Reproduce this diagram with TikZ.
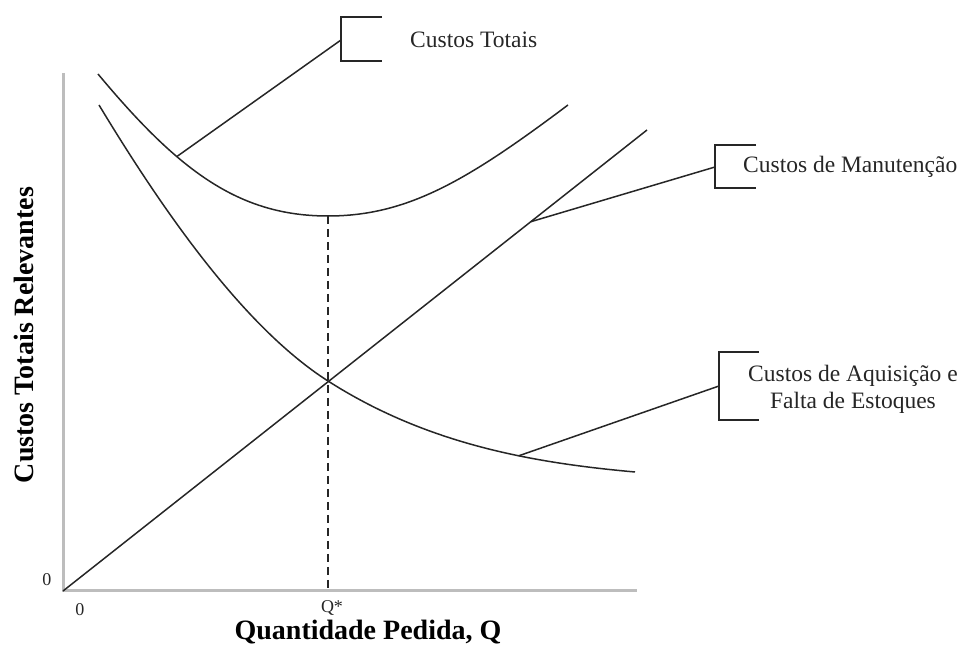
\documentclass[tikz,border=0pt]{standalone}
\usepackage{fontspec}
\setmainfont{Liberation Serif}
\usepackage{tikz}
\usetikzlibrary{positioning}
\definecolor{AxisGray}{HTML}{BDBDBD}
\definecolor{LineColor}{HTML}{262626}
\newcommand\labelct{Custos Totais}
\newcommand\labelcm{Custos de Manutenção}
\newcommand\labelca{Custos de Aquisição e\\Falta de Estoques}
\newcommand\labelqx{Quantidade Pedida, Q}
\newcommand\labelqy{Custos Totais Relevantes}
\tikzstyle{curvestyle} = [draw=LineColor, line width=1.5pt]
\tikzstyle{axisstyle} = [draw=AxisGray, line width=3pt]
\tikzstyle{txt} = [font=\fontsize{23.5}{27}\selectfont, text=LineColor, inner sep=0pt]
\tikzstyle{bigtxt} = [font=\fontsize{28}{32}\selectfont\bfseries, text=black, inner sep=0pt]
\tikzstyle{ticktxt} = [font=\fontsize{18}{20}\selectfont, text=LineColor, inner sep=0pt]
\tikzset{x=1pt, y=1pt}

\begin{document}
\begin{tikzpicture}
\useasboundingbox (-63,-54) rectangle (899,591);
% axes
\coordinate (o) at (0,0);
\coordinate (ytop) at (0,518);
\coordinate (xend) at (574,0);
\draw[axisstyle] (ytop) -- (o) -- (xend);
% curves
\coordinate (tmin) at (265,375);
\coordinate (qaxis) at (265,0);
\coordinate (mend) at (584,461);
\draw[curvestyle] (35,517) .. controls (115,421) and (175,375) .. coordinate[pos=0.35] (ctp) (tmin)
  .. controls (345,375) and (405,411) .. (505,486);
\draw[curvestyle] (36,486) .. controls (106,370) and (185,261) .. (265,210)
  .. controls (365,146) and (472,128) .. coordinate[pos=0.62] (cap) (572,119);
\draw[curvestyle] (o) -- coordinate[pos=0.801] (cmp) (mend);
\draw[curvestyle, dash pattern=on 8pt off 5pt] (tmin) -- (qaxis);
% labels
\node[txt, anchor=west] (ct) at (347,551) {\labelct};
\node[txt, anchor=west] (cm) at (680,424) {\labelcm};
\node[txt, align=center] (ca) at (790,202) {\labelca};
\node[ticktxt] (zy) at (-16,11) {0};
\node[ticktxt] (zx) at (17,-19) {0};
\node[ticktxt] (qs) at (269,-17) {Q*};
\node[bigtxt] (qx) at (305,-41) {\labelqx};
\node[bigtxt, rotate=90] (qy) at (-39,256) {\labelqy};
% brackets
\coordinate (ctj) at (278,551);
\coordinate (cmj) at (652,424);
\coordinate (caj) at (656,205);
\draw[curvestyle] (319,574) -- (278,574) -- (278,530) -- (319,530);
\draw[curvestyle] (693,446) -- (652,446) -- (652,403) -- (693,403);
\draw[curvestyle] (696,239) -- (656,239) -- (656,171) -- (696,171);
% leaders
\draw[curvestyle] (ctp) -- (ctj);
\draw[curvestyle] (cmp) -- (cmj);
\draw[curvestyle] (cap) -- (caj);
\end{tikzpicture}
\end{document}
